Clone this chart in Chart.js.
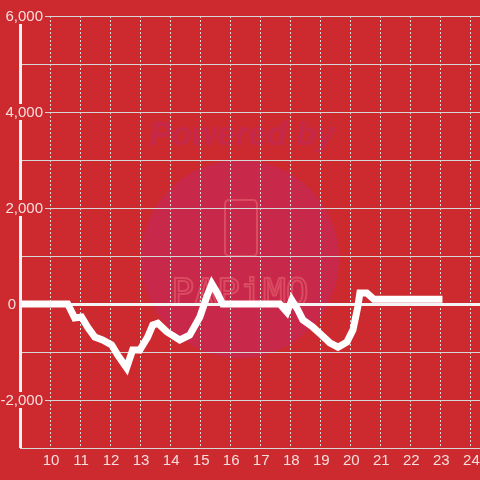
<!DOCTYPE html>
<html>
<head>
<meta charset="utf-8">
<script src="https://cdn.jsdelivr.net/npm/chart.js@4/dist/chart.umd.min.js"></script>
<style>
html,body{margin:0;padding:0;background:#cd2a2f;}
canvas{display:block;}
</style>
</head>
<body>
<canvas id="c" width="480" height="480"></canvas>
<script>
// Hours of day (decimal) and values
const hours = [9.00, 10.59, 10.82, 11.05, 11.25, 11.49, 11.75, 12.05, 12.25, 12.55, 12.75, 12.99, 13.25, 13.42, 13.59, 13.89, 14.32, 14.65, 14.99, 15.22, 15.39, 15.55, 15.75, 17.65, 17.89, 18.05, 18.25, 18.42, 18.75, 19.05, 19.32, 19.59, 19.89, 20.09, 20.25, 20.32, 20.55, 20.78, 23.07];
const values = [0, 0, -290, -270, -480, -690, -750, -850, -1060, -1330, -960, -960, -690, -440, -400, -580, -750, -650, -270, 150, 420, 250, 0, 0, -170, 80, -120, -330, -480, -650, -810, -900, -790, -540, -60, 230, 230, 100, 100];
const xTicks = [10,11,12,13,14,15,16,17,18,19,20,21,22,23,24];
const yTicks = [-3000,-2000,-1000,0,1000,2000,3000,4000,5000,6000];
const yLabelTicks = [-2000,0,2000,4000,6000];

const BG = '#cd2a2f';
const LABEL = '#f6dede';
const FONT = '15px "Liberation Sans", Arial, sans-serif';

const points = hours.map((h,i)=>({x:h,y:values[i]}));

const watermark = {
  id:'watermark',
  beforeDraw(chart){
    const ctx = chart.ctx;
    ctx.save();
    ctx.fillStyle = BG;
    ctx.fillRect(0,0,chart.width,chart.height);
    ctx.fillStyle = '#c8284a';
    ctx.beginPath();
    ctx.arc(240,259,99,0,Math.PI*2);
    ctx.fill();
    ctx.font = 'italic bold 33px "Liberation Sans", Arial, sans-serif';
    ctx.textAlign = 'center';
    ctx.textBaseline = 'alphabetic';
    ctx.fillStyle = '#c6284a';
    ctx.fillText('Powered by', 242, 145);
    ctx.strokeStyle = 'rgba(236,110,120,0.5)';
    ctx.lineWidth = 2;
    ctx.beginPath();
    ctx.roundRect(225,200,32,56,4);
    ctx.stroke();
    ctx.font = '38px "DejaVu Sans Mono", monospace';
    ctx.lineWidth = 2;
    ctx.strokeText('PAPiMO', 240, 305);
    ctx.restore();
  }
};

const axisLabels = {
  id:'axisLabels',
  afterDraw(chart){
    const ctx = chart.ctx;
    const xs = chart.scales.x, ys = chart.scales.y;
    const area = chart.chartArea;
    ctx.save();
    ctx.strokeStyle = '#f2f2f2';
    ctx.lineWidth = 3;
    ctx.beginPath();
    ctx.moveTo(area.left+0.5, area.top);
    ctx.lineTo(area.left+0.5, area.bottom);
    ctx.stroke();
    ctx.font = FONT;
    ctx.textBaseline = 'middle';
    ys.ticks.forEach(t=>{
      if (!yLabelTicks.includes(t.value)) return;
      const y = ys.getPixelForValue(t.value);
      const txt = t.value.toLocaleString('en-US');
      const w = ctx.measureText(txt).width;
      const right = t.value === 0 ? 16 : 43;
      ctx.fillStyle = BG;
      ctx.fillRect(right-w-2, y-8, w+4, 16);
      ctx.fillStyle = LABEL;
      ctx.textAlign = 'right';
      ctx.fillText(txt, right, y+1);
    });
    ctx.textAlign = 'center';
    ctx.textBaseline = 'middle';
    ctx.fillStyle = LABEL;
    xs.ticks.forEach(t=>{
      const x = xs.getPixelForValue(t.value);
      ctx.fillText(String(t.value), x+1, 461);
    });
    ctx.restore();
  }
};

new Chart(document.getElementById('c'), {
  type:'line',
  data:{datasets:[{
    data: points,
    borderColor:'#ffffff',
    borderWidth:7,
    pointRadius:0,
    tension:0,
    fill:false
  }]},
  options:{
    responsive:false,
    animation:false,
    layout:{padding:{left:20,top:16,right:0,bottom:32}},
    plugins:{legend:{display:false},tooltip:{enabled:false}},
    scales:{
      x:{
        type:'linear', min:9, max:24.32,
        afterBuildTicks(s){ s.ticks = xTicks.map(v=>({value:v})); },
        ticks:{display:false},
        border:{display:false, dash:[2,2]},
        grid:{color:'#dcdcdc', lineWidth:1, drawTicks:false}
      },
      y:{
        type:'linear', min:-3000, max:6000,
        afterBuildTicks(s){ s.ticks = yTicks.map(v=>({value:v})); },
        ticks:{display:false},
        border:{display:false},
        grid:{
          drawTicks:false,
          color:(c)=> c.tick && c.tick.value===0 ? '#f4f4f4' : '#d6d6d6',
          lineWidth:(c)=> c.tick && c.tick.value===0 ? 3 : 1
        }
      }
    }
  },
  plugins:[watermark, axisLabels]
});
</script>
</body>
</html>
